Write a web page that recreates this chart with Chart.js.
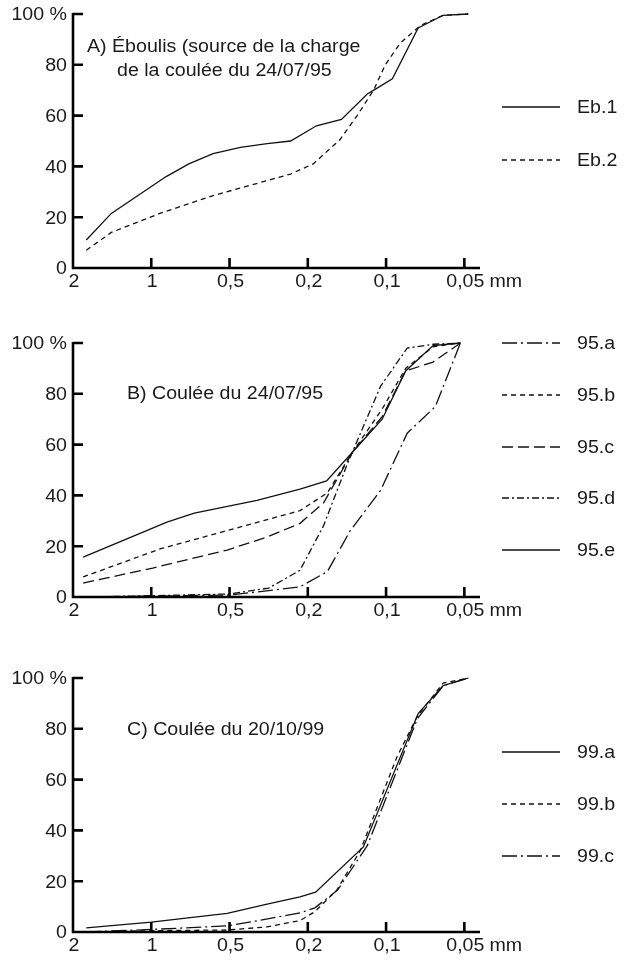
<!DOCTYPE html>
<html>
<head>
<meta charset="utf-8">
<script src="https://cdn.jsdelivr.net/npm/chart.js@4.4.1/dist/chart.umd.min.js"></script>
<style>
html,body{margin:0;padding:0;background:#fff;}
#wrap{position:relative;width:631px;height:965px;overflow:hidden;}
canvas{position:absolute;left:0;}
</style>
</head>
<body>
<div id="wrap">
<canvas id="cA" width="631" height="300" style="top:0px"></canvas>
<canvas id="cB" width="631" height="300" style="top:329px"></canvas>
<canvas id="cC" width="631" height="300" style="top:664px"></canvas>
</div>
<script>
// ---- tick labels (x axis: equally spaced sieve sizes, positions 0..5) ----
const xTickPos = [0, 1, 2, 3, 4, 5];
const xTickLabels = ["2", "1", "0,5", "0,2", "0,1", "0,05"];
const xUnit = "mm";
const yTicks = [0, 20, 40, 60, 80, 100];
const yTickLabels = ["0", "20", "40", "60", "80", "100 %"];

// ---- Panel A : Éboulis ----
const eb1X = [0.17, 0.49, 1.19, 1.48, 1.79, 2.14, 2.48, 2.78, 3.11, 3.43, 3.76, 3.87, 4.08, 4.41, 4.73, 5.05];
const eb1Y = [11, 21.5, 36, 41, 45, 47.5, 49, 50, 56, 58.5, 68.5, 70.5, 74.5, 94.5, 99.5, 100];
const eb2X = [0.17, 0.49, 1.11, 1.79, 2.78, 3.07, 3.41, 3.63, 3.84, 3.99, 4.18, 4.44, 4.73, 5.05];
const eb2Y = [7, 14, 21.5, 28.5, 37, 41, 50.5, 60, 70, 80, 88.5, 95.5, 99.5, 100];

// ---- Panel B : Coulée du 24/07/95 ----
const c95aX = [0.13, 1.0, 2.0, 2.5, 2.9, 3.25, 3.54, 3.93, 4.27, 4.63, 4.95];
const c95aY = [0, 0.3, 0.8, 2.5, 4, 10, 26, 42, 64.5, 75, 100];
const c95bX = [0.13, 1.11, 2.9, 3.25, 3.57, 3.95, 4.25, 4.6, 4.95];
const c95bY = [7.9, 18.9, 34, 41, 57, 74, 90, 98.5, 100];
const c95cX = [0.13, 1.02, 1.97, 2.48, 2.9, 3.2, 3.57, 3.95, 4.25, 4.6, 4.95];
const c95cY = [5.5, 11.4, 18.5, 23.6, 29, 37, 57, 71, 89, 92.5, 100];
const c95dX = [0.13, 1.0, 2.0, 2.5, 2.9, 3.2, 3.5, 3.93, 4.27, 4.6, 4.95];
const c95dY = [0, 0.5, 1.2, 3.5, 10.5, 28, 52, 83, 98, 99.5, 100];
const c95eX = [0.13, 1.2, 1.55, 2.35, 2.9, 3.24, 3.57, 3.95, 4.25, 4.6, 4.95];
const c95eY = [15.7, 29.5, 33, 38, 42.5, 45.7, 57, 70, 89, 99, 100];

// ---- Panel C : Coulée du 20/10/99 ----
const c99aX = [0.17, 1.0, 1.97, 2.48, 2.9, 3.1, 3.71, 4.41, 4.73, 5.05];
const c99aY = [1.6, 3.9, 7.3, 11, 13.8, 15.7, 33.5, 86, 97, 100];
const c99bX = [0.17, 1.0, 1.97, 2.48, 2.9, 3.09, 3.37, 3.67, 4.14, 4.4, 4.73, 5.05];
const c99bY = [0, 0.5, 0.8, 2, 4.5, 8, 16.5, 32, 69, 85, 98, 100];
const c99cX = [0.17, 1.0, 1.97, 2.4, 2.9, 3.09, 3.38, 3.76, 4.4, 4.73, 5.05];
const c99cY = [0, 1, 2.4, 4.7, 7.5, 9.5, 16.5, 34, 84, 97, 100];

// ---- styles ----
const SOLID = [];
const SHORT = [5, 4];
const LONG = [11, 5];
const LONGDOT = [15, 4, 2, 4];
const SHORTDOT = [7, 3, 2, 3];
const INK = '#111';
const FONT = '17.5px "Liberation Sans", Arial, sans-serif';
const SX = 1.12;

function pts(xs, ys) { return xs.map((x, i) => ({ x: x, y: ys[i] })); }
function ds(label, xs, ys, dash) {
  return { label: label, data: pts(xs, ys), borderColor: INK, borderWidth: 1.3,
           borderDash: dash, pointRadius: 0, fill: false, tension: 0, clip: false };
}

function stretchText(ctx, s, x, y, align) {
  const w = ctx.measureText(s).width * SX;
  let left = x;
  if (align === 'right') left = x - w;
  else if (align === 'center') left = x - w / 2;
  ctx.save();
  ctx.translate(left, y);
  ctx.scale(SX, 1);
  ctx.textAlign = 'left';
  ctx.textBaseline = 'alphabetic';
  ctx.fillText(s, 0, 0);
  ctx.restore();
  return w;
}

function makeDecor(titleLines, legendYs) {
  return {
    id: 'decor',
    afterDraw(chart) {
      const ctx = chart.ctx;
      const xs = chart.scales.x, ys = chart.scales.y;
      const x0 = xs.getPixelForValue(0), xEnd = xs.getPixelForValue(xs.max);
      const y0 = ys.getPixelForValue(0), yTop = ys.getPixelForValue(100);
      ctx.save();
      ctx.strokeStyle = '#000';
      ctx.lineWidth = 2.6;
      ctx.lineCap = 'butt';
      ctx.setLineDash([]);
      ctx.beginPath();
      ctx.moveTo(x0, yTop - 1);
      ctx.lineTo(x0, y0 + 1.3);
      ctx.moveTo(x0 - 1.3, y0);
      ctx.lineTo(xEnd, y0);
      // y ticks (inside)
      yTicks.forEach(v => { if (v > 0) { const p = ys.getPixelForValue(v); ctx.moveTo(x0, p); ctx.lineTo(x0 + 10, p); } });
      // x ticks (inside)
      xTickPos.forEach(v => { if (v > 0) { const p = xs.getPixelForValue(v); ctx.moveTo(p, y0); ctx.lineTo(p, y0 - 10); } });
      ctx.stroke();

      ctx.fillStyle = '#1a1a1a';
      ctx.font = FONT;
      yTicks.forEach((v, i) => {
        stretchText(ctx, yTickLabels[i], x0 - 6, ys.getPixelForValue(v) + 6.3, 'right');
      });
      xTickPos.forEach((v, i) => {
        const p = xs.getPixelForValue(v);
        const w = stretchText(ctx, xTickLabels[i], p + 1, y0 + 19, 'center');
        if (i === xTickPos.length - 1) stretchText(ctx, xUnit, p + 1 + w / 2 + 5, y0 + 19, 'left');
      });
      // titles
      const y80 = ys.getPixelForValue(80);
      titleLines.forEach(t => stretchText(ctx, t.text, t.x, y80 + t.dy, 'left'));
      // legend
      chart.data.datasets.forEach((d, i) => {
        const ly = legendYs[i];
        ctx.strokeStyle = INK;
        ctx.lineWidth = 1.3;
        ctx.setLineDash(d.borderDash);
        ctx.beginPath();
        ctx.moveTo(502, ly);
        ctx.lineTo(560, ly);
        ctx.stroke();
        ctx.setLineDash([]);
        stretchText(ctx, d.label, 577, ly + 6.3, 'left');
      });
      ctx.restore();
    }
  };
}

function makeChart(id, datasets, titleLines, legendYs) {
  return new Chart(document.getElementById(id), {
    type: 'line',
    data: { datasets: datasets },
    options: {
      responsive: false,
      devicePixelRatio: 1,
      animation: false,
      layout: { padding: { left: 73, right: 151, top: 14, bottom: 32 } },
      scales: {
        x: { type: 'linear', min: 0, max: 5.2, display: false },
        y: { type: 'linear', min: 0, max: 100, display: false }
      },
      plugins: { legend: { display: false }, tooltip: { enabled: false } }
    },
    plugins: [makeDecor(titleLines, legendYs)]
  });
}

makeChart('cA', [
  ds('Eb.1', eb1X, eb1Y, SOLID),
  ds('Eb.2', eb2X, eb2Y, SHORT)
], [
  { text: 'A) Éboulis (source de la charge', x: 87, dy: -13 },
  { text: 'de la coulée du 24/07/95', x: 117, dy: 11 }
], [107, 160]);

makeChart('cB', [
  ds('95.a', c95aX, c95aY, LONGDOT),
  ds('95.b', c95bX, c95bY, SHORT),
  ds('95.c', c95cX, c95cY, LONG),
  ds('95.d', c95dX, c95dY, SHORTDOT),
  ds('95.e', c95eX, c95eY, SOLID)
], [
  { text: 'B) Coulée du 24/07/95', x: 127, dy: 5 }
], [14, 66, 118, 169, 221]);

makeChart('cC', [
  ds('99.a', c99aX, c99aY, SOLID),
  ds('99.b', c99bX, c99bY, SHORT),
  ds('99.c', c99cX, c99cY, LONGDOT)
], [
  { text: 'C) Coulée du 20/10/99', x: 127, dy: 6 }
], [88, 140, 192]);
</script>
</body>
</html>
